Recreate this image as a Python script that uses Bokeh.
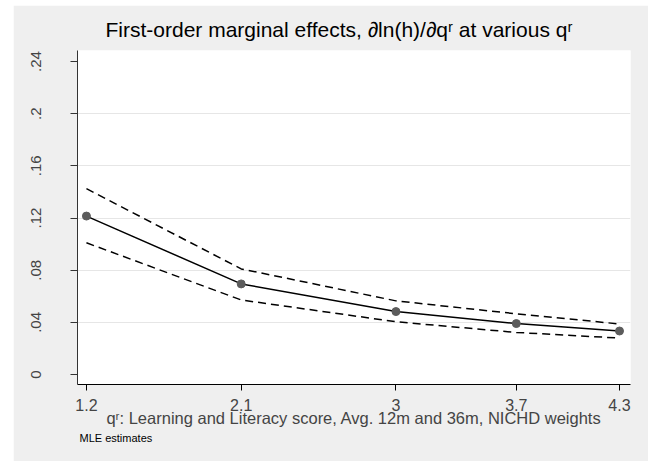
from bokeh.plotting import figure
from bokeh.models import FixedTicker, Range1d, Title, ColumnDataSource
from bokeh.embed import file_html
from bokeh.resources import INLINE

# Data
q_values = [1.2, 2.1, 3.0, 3.7, 4.3]
effect = [0.1215, 0.0695, 0.0483, 0.0391, 0.0334]
upper_ci = [0.1425, 0.0810, 0.0565, 0.0466, 0.0388]
lower_ci = [0.1010, 0.0572, 0.0405, 0.0323, 0.0280]

x_ticks = [1.2, 2.1, 3.0, 3.7, 4.3]
x_tick_labels = ["1.2", "2.1", "3", "3.7", "4.3"]
y_ticks = [0.0, 0.04, 0.08, 0.12, 0.16, 0.2, 0.24]
y_tick_labels = ["0", ".04", ".08", ".12", ".16", ".2", ".24"]

title_text = "First-order marginal effects, \u2202ln(h)/\u2202q\u02b3 at various q\u02b3"
x_label = "q\u02b3: Learning and Literacy score, Avg. 12m and 36m, NICHD weights"
note_text = "MLE estimates"

FONT = "Liberation Sans"
BG = "#EFEFEF"

p = figure(width=635, height=456, output_backend="svg", toolbar_location=None,
           x_range=Range1d(1.148, 4.364), y_range=Range1d(-0.0076, 0.2484),
           min_border_left=64, min_border_right=18, min_border_top=44,
           min_border_bottom=77)
p.margin = (5, 0, 0, 13)
p.background_fill_color = "white"
p.border_fill_color = BG
p.outline_line_color = None

p.title.text = title_text
p.title.align = "left"
p.title.offset = 28
p.title.text_font = FONT
p.title.text_font_size = "21px"
p.title.text_font_style = "normal"
p.title.text_color = "black"
p.title.standoff = 20

src = ColumnDataSource(dict(x=q_values, y=effect, up=upper_ci, lo=lower_ci))
p.line("x", "up", source=src, line_color="black", line_width=1.5, line_dash="8 5")
p.line("x", "lo", source=src, line_color="black", line_width=1.5, line_dash="8 5")
p.line("x", "y", source=src, line_color="black", line_width=1.5)
p.scatter("x", "y", source=src, size=8, fill_color="#5c5c5c", line_color="#5c5c5c")

# x axis
p.xaxis.ticker = FixedTicker(ticks=x_ticks)
p.xaxis.major_label_overrides = {t: l for t, l in zip(x_ticks, x_tick_labels)}
p.xaxis.axis_label = x_label
p.xaxis.axis_label_text_font = FONT
p.xaxis.axis_label_text_font_size = "16.5px"
p.xaxis.axis_label_text_font_style = "normal"
p.xaxis.axis_label_standoff = -5
p.xaxis.major_label_text_font = FONT
p.xaxis.major_label_text_font_size = "16px"
p.xaxis.major_label_standoff = 8
p.xaxis.major_tick_out = 6
p.xaxis.major_tick_in = 0
p.xaxis.minor_tick_line_color = None
p.xaxis.axis_line_color = "black"
p.xaxis.major_tick_line_color = "black"

# y axis
p.yaxis.ticker = FixedTicker(ticks=y_ticks)
p.yaxis.major_label_overrides = {t: l for t, l in zip(y_ticks, y_tick_labels)}
p.yaxis.major_label_orientation = "vertical"
p.yaxis.major_label_text_font = FONT
p.yaxis.major_label_text_font_size = "15px"
p.yaxis.major_label_standoff = 29
p.yaxis.major_tick_out = 7
p.yaxis.major_tick_in = 0
p.yaxis.minor_tick_line_color = None
p.yaxis.axis_line_color = "#333333"
p.yaxis.major_tick_line_color = "#333333"

p.xgrid.grid_line_color = None
p.ygrid.ticker = FixedTicker(ticks=[0.04, 0.08, 0.12, 0.16, 0.2])
p.ygrid.grid_line_color = "#E6E6E6"
p.ygrid.grid_line_width = 1

note = Title(text=note_text, align="left", text_font=FONT, text_font_size="11px",
             text_font_style="normal", text_color="black", offset=2, standoff=0)
p.add_layout(note, "below")

open("out.html", "w").write(file_html(p, INLINE))
